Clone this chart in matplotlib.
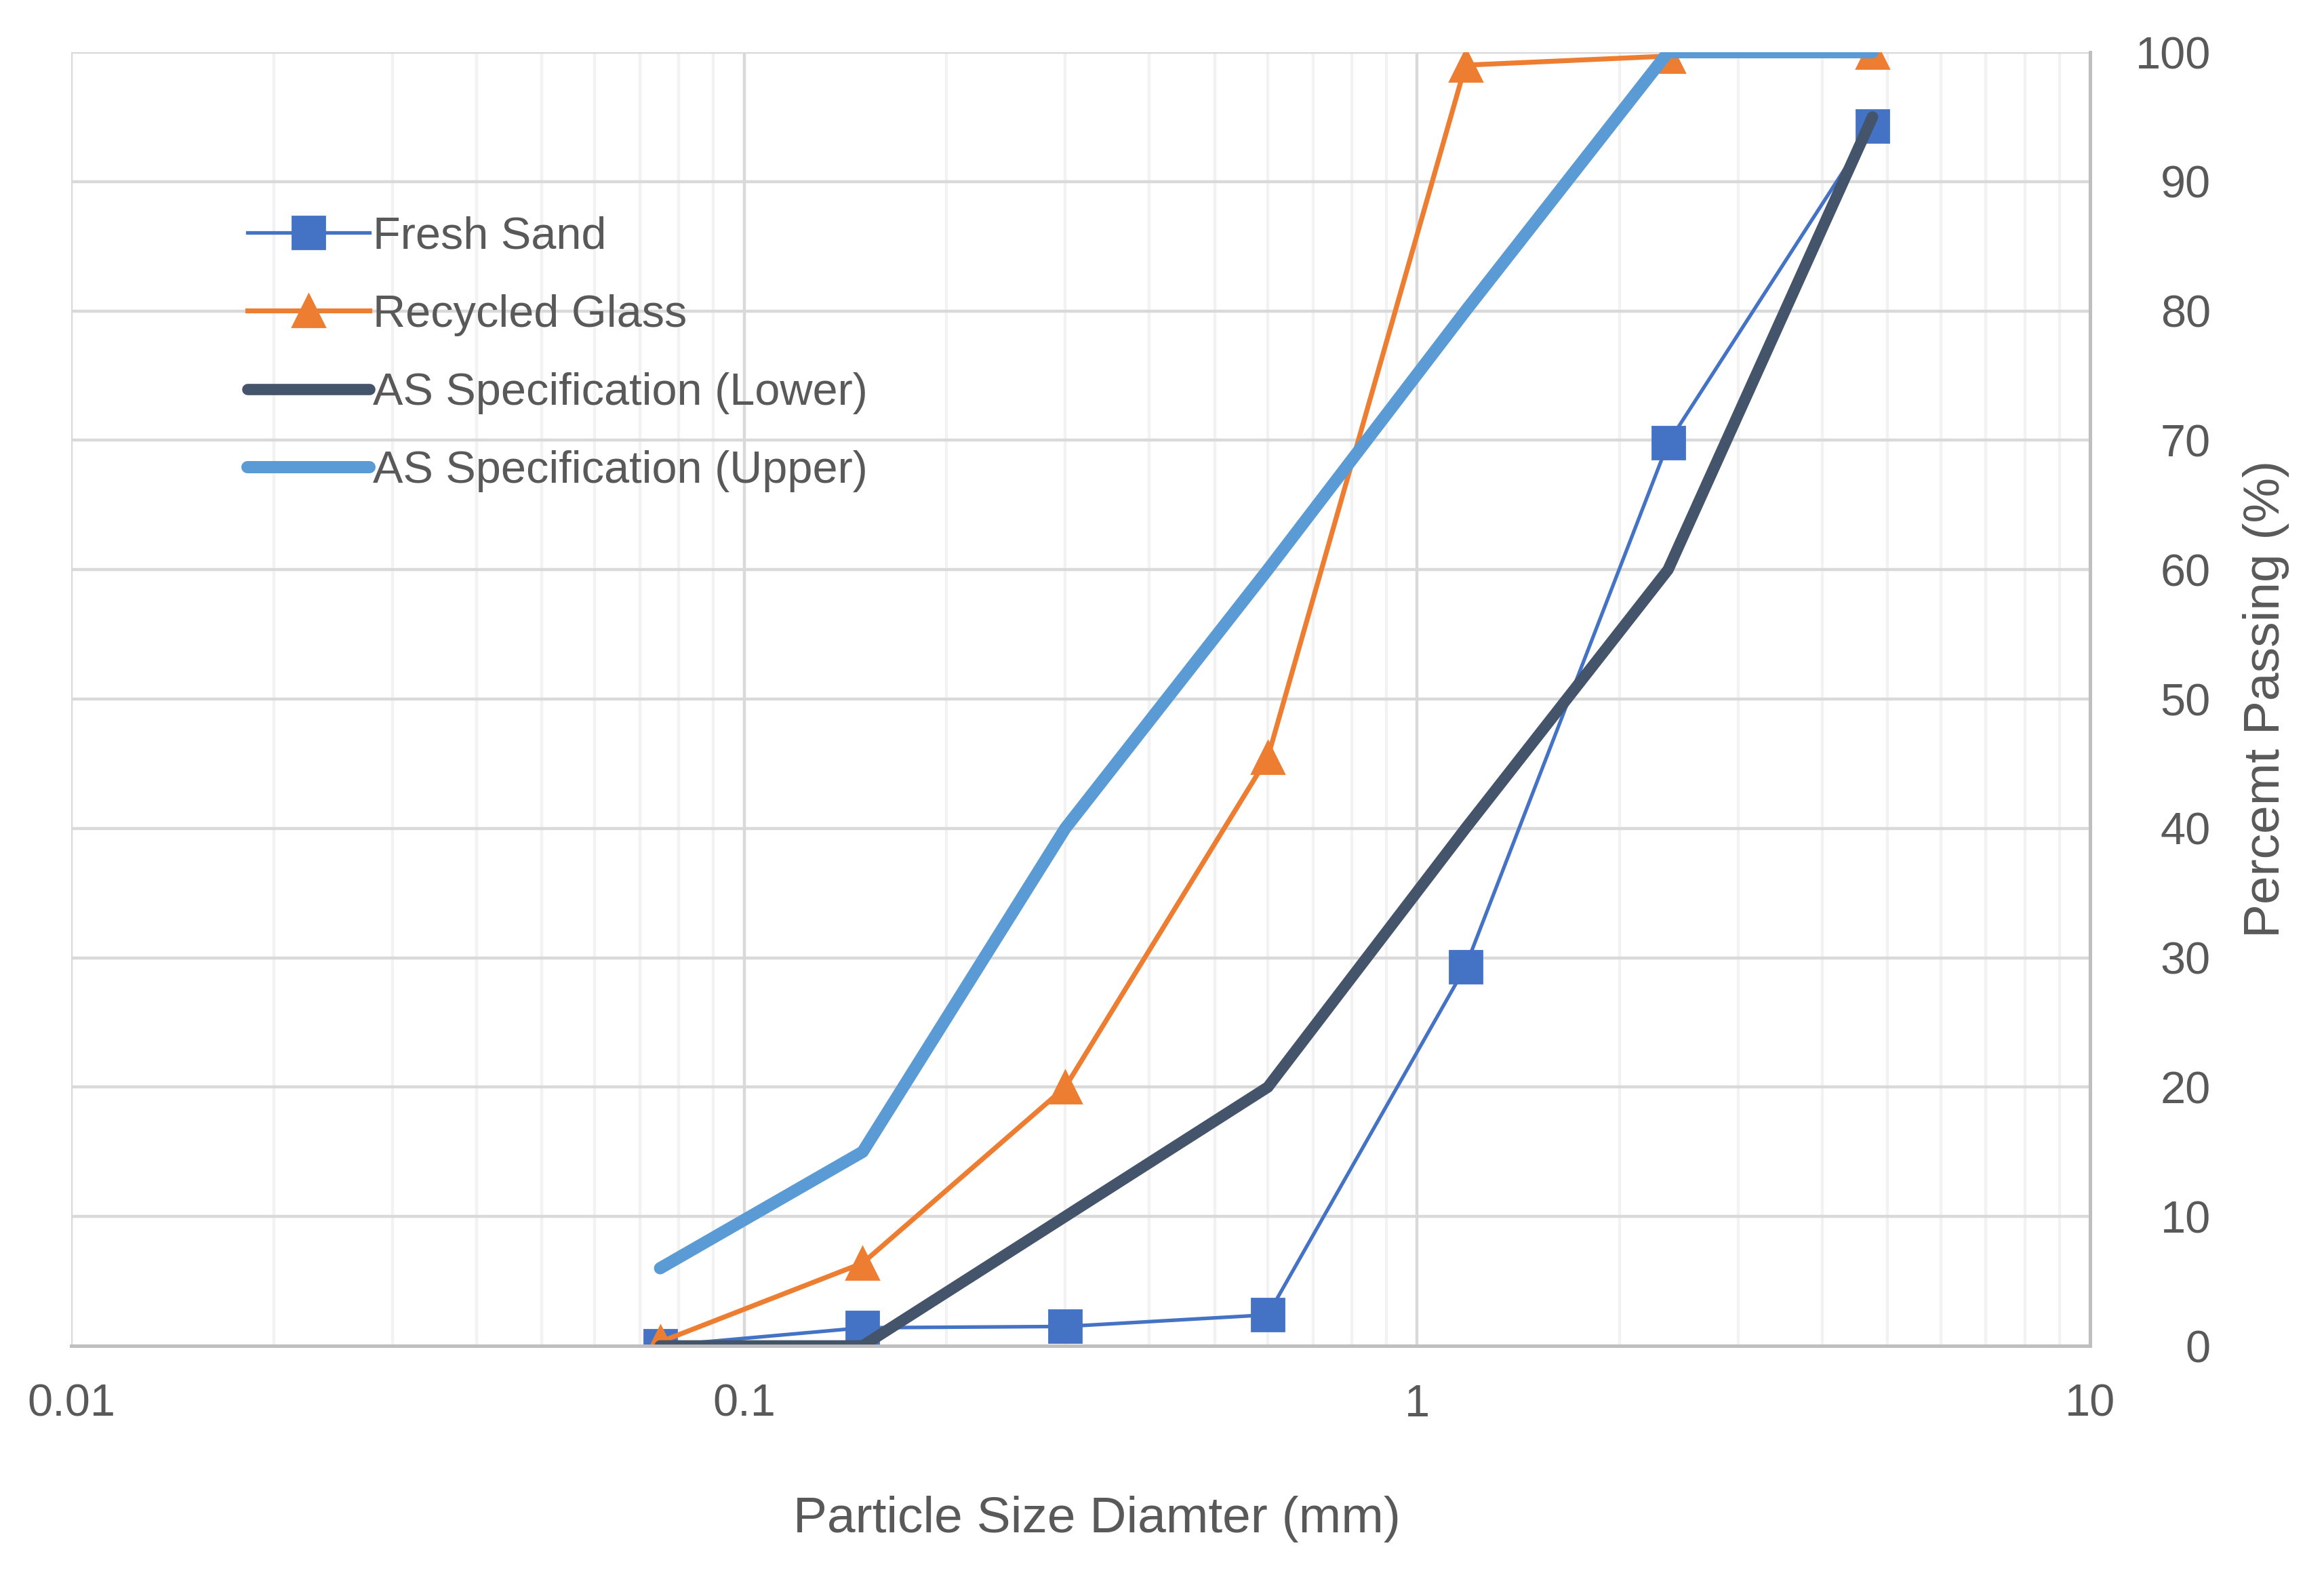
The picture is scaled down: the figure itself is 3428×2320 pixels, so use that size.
import matplotlib.pyplot as plt
import numpy as np
from matplotlib.ticker import FixedLocator, LogLocator, NullFormatter

plt.rcParams['font.family'] = ['Liberation Sans Narrow', 'Liberation Sans', 'DejaVu Sans']

# sieve sizes (mm)
sieve = [0.075, 0.15, 0.3, 0.6, 1.18, 2.36, 4.75]
fresh_sand = [0.0, 1.4, 1.5, 2.4, 29.3, 69.8, 94.3]
recycled_glass = [0.3, 6.4, 20.0, 45.5, 99.0, 99.7, 100.0]
as_lower = [0, 0, 10, 20, 40, 60, 95]
as_upper = [6, 15, 40, 60, 80, 100, 100]

txt = '#595959'

fig = plt.figure(figsize=(17.14, 11.6), dpi=200)
ax = fig.add_axes([105/3428, 1 - 1985/2320, (3083-105)/3428, (1985-77)/2320])

ax.plot(sieve, fresh_sand, color='#4472C4', lw=1.9, marker='s', ms=17, label='Fresh Sand')
ax.plot(sieve, recycled_glass, color='#ED7D31', lw=2.6, marker='^', ms=17, label='Recycled Glass')
ax.plot(sieve, as_lower, color='#44546A', lw=6, solid_capstyle='round', label='AS Specification (Lower)')
ax.plot(sieve, as_upper, color='#5B9BD5', lw=6.5, solid_capstyle='round', label='AS Specification (Upper)')

ax.set_xscale('log')
ax.set_xlim(0.01, 10)
ax.set_ylim(0, 100)
ax.xaxis.set_major_locator(FixedLocator([0.01, 0.1, 1, 10]))
ax.xaxis.set_minor_locator(LogLocator(base=10, subs=np.arange(2, 10)))
ax.xaxis.set_minor_formatter(NullFormatter())
ax.set_xticklabels(['0.01', '0.1', '1', '10'])
ax.set_yticks(np.arange(0, 101, 10))

ax.grid(True, which='major', color='#D9D9D9', lw=1.6, zorder=0)
ax.grid(True, which='minor', axis='x', color='#F2F2F2', lw=1.6, zorder=0)
ax.set_axisbelow(True)

for s in ['left', 'top']:
    ax.spines[s].set_visible(False)
for s in ['bottom', 'right']:
    ax.spines[s].set_color('#BFBFBF')
    ax.spines[s].set_linewidth(1.8)

ax.yaxis.tick_right()
ax.tick_params(axis='y', which='both', length=0, pad=64, labelsize=24, labelcolor=txt)
for lab in ax.get_yticklabels():
    lab.set_horizontalalignment('right')
ax.tick_params(axis='x', which='both', length=0, pad=20, labelsize=24, labelcolor=txt)

ax.set_xlabel('Particle Size Diamter (mm)', fontsize=27, color=txt)
ax.xaxis.set_label_coords(0.508, -0.116)
ax.yaxis.set_label_position('right')
ax.set_ylabel('Percemt Passing (%)', fontsize=27, color=txt, labelpad=17)

ax.legend(loc='upper left', bbox_to_anchor=(0.067, 0.905), frameon=False, fontsize=24,
          labelcolor=txt, handlelength=2.7, handletextpad=0.08, labelspacing=0.8)

plt.savefig('out.png', dpi=200)
